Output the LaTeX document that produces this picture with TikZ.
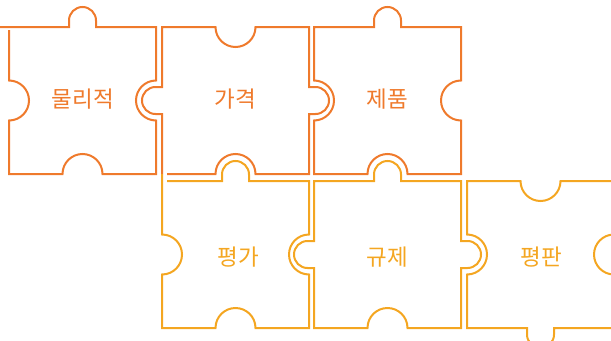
\documentclass[tikz,border=0pt]{standalone}
\usepackage{fontspec}
\newfontfamily\kr{Noto Sans CJK KR}
\definecolor{orn}{HTML}{EF7A2C}
\definecolor{ylw}{HTML}{F4A621}
\tikzset{
  piece/.style={line width=2bp},
  lbl/.style={inner sep=0pt, font=\kr\fontsize{22.5bp}{22.5bp}\selectfont},
  topTab/.style={insert path={-- ++(60,0) -- ++(0,6.5) arc[start angle=180,end angle=0,radius=13.5] -- ++(0,-6.5) -- ++(60,0)}},
  topBlank/.style={insert path={-- ++(53.5,0) arc[start angle=180,end angle=360,radius=20] -- ++(53.5,0)}},
  rightTab/.style={insert path={-- ++(0,-60) -- ++(6.5,0) arc[start angle=90,end angle=-90,radius=13.5] -- ++(-6.5,0) -- ++(0,-60)}},
  rightBlank/.style={insert path={-- ++(0,-53.5) arc[start angle=90,end angle=270,radius=20] -- ++(0,-53.5)}},
  botTab/.style={insert path={-- ++(-60,0) -- ++(0,-6.5) arc[start angle=0,end angle=-180,radius=13.5] -- ++(0,6.5) -- ++(-60,0)}},
  botBlank/.style={insert path={-- ++(-53.5,0) arc[start angle=0,end angle=180,radius=20] -- ++(-53.5,0)}},
  leftTab/.style={insert path={-- ++(0,60) -- ++(-6.5,0) arc[start angle=-90,end angle=-270,radius=13.5] -- ++(6.5,0) -- ++(0,60)}},
  leftBlank/.style={insert path={-- ++(0,53.5) arc[start angle=-90,end angle=90,radius=20] -- ++(0,53.5)}},
}
\begin{document}
\begin{tikzpicture}[x=1bp,y=1bp]
\useasboundingbox (0,0) rectangle (611,340);
\clip (0,0) rectangle (611,340);
% row 1 (orange)
\draw[piece,orn] (0,313) -- (9,313) [topTab] [rightBlank] [botBlank]
  -- ++(0,53.5) arc[start angle=-90,end angle=90,radius=20] -- ++(0,50.5);
\draw[piece,orn] (162,166) [leftTab] [topBlank] [rightTab]
  -- ++(-53.5,0) arc[start angle=0,end angle=180,radius=20] -- ++(-48.5,0);
\draw[piece,orn] (314,313) [topTab] [rightBlank] [botBlank] [leftBlank] -- cycle;
% row 2 (yellow)
\draw[piece,ylw] (167,159) -- ++(55,0) -- ++(0,6.5) arc[start angle=180,end angle=0,radius=13.5] -- ++(0,-6.5) -- ++(60,0)
  [rightBlank] [botBlank]
  -- ++(0,53.5) arc[start angle=-90,end angle=90,radius=20] -- ++(0,60.5);
\draw[piece,ylw] (314,159) [topTab] [rightTab] [botBlank] [leftTab] -- cycle;
\draw[piece,ylw] (467,159) [topBlank] [rightBlank] [botTab] [leftBlank] -- cycle;
% labels
\node[lbl,text=orn] (t1) at (83,241) {물리적};
\node[lbl,text=orn] (t2) at (235,241) {가격};
\node[lbl,text=orn] (t3) at (387,241) {제품};
\node[lbl,text=ylw] (t4) at (238,83) {평가};
\node[lbl,text=ylw] (t5) at (387,83) {규제};
\node[lbl,text=ylw] (t6) at (541,83) {평판};
\end{tikzpicture}
\end{document}
